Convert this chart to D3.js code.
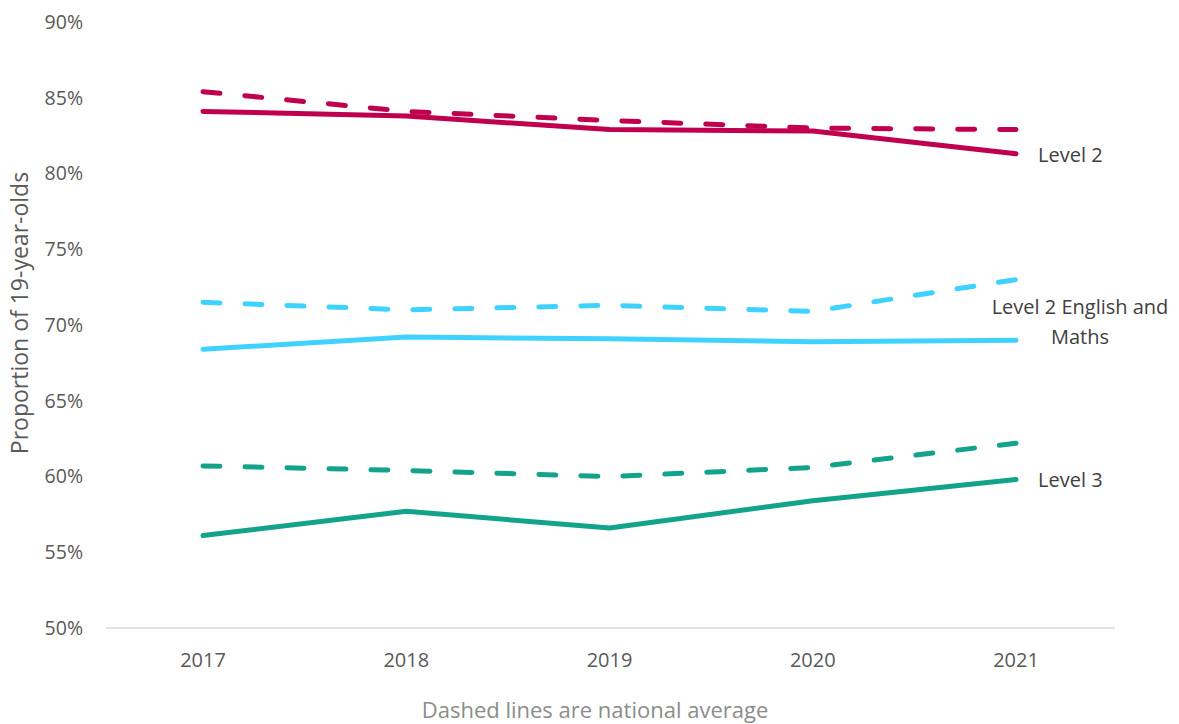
<!DOCTYPE html>
<html><head><meta charset="utf-8">
<script src="https://cdn.jsdelivr.net/npm/d3@7"></script>
<style>body{margin:0;background:#fff}svg{display:block}text{font-family:"Open Sans",sans-serif}</style>
</head><body><svg id="c" width="1179" height="724"></svg>
<script>
const years = ["2017","2018","2019","2020","2021"];
const level2 = [84.1, 83.8, 82.9, 82.8, 81.3];
const level2National = [85.4, 84.1, 83.5, 83.0, 82.9];
const level2EM = [68.4, 69.2, 69.1, 68.9, 69.0];
const level2EMNational = [71.5, 71.0, 71.3, 70.9, 73.0];
const level3 = [56.1, 57.7, 56.6, 58.4, 59.8];
const level3National = [60.7, 60.4, 60.0, 60.6, 62.2];
const yTicks = [50,55,60,65,70,75,80,85,90];

const series = [
  {vals: level2National, color:"#C0004F", dashed:true},
  {vals: level2, color:"#C0004F", dashed:false},
  {vals: level2EMNational, color:"#40D2FF", dashed:true},
  {vals: level2EM, color:"#40D2FF", dashed:false},
  {vals: level3National, color:"#13A38A", dashed:true},
  {vals: level3, color:"#13A38A", dashed:false}
];

const svg = d3.select("#c");
const x = d3.scalePoint().domain(years).range([203,1016]);
const y = d3.scaleLinear().domain([50,90]).range([628,22]);

svg.append("line").attr("x1",106).attr("x2",1115).attr("y1",y(50)).attr("y2",y(50))
  .attr("stroke","#d9d9d9").attr("stroke-width",1.5);

svg.append("g").selectAll("text").data(yTicks).join("text")
  .attr("x",83).attr("y",d=>y(d)).attr("dy","0.35em").attr("text-anchor","end")
  .attr("fill","#595959").attr("font-size",19.5).text(d=>d+"%");

svg.append("g").selectAll("text").data(years).join("text")
  .attr("x",d=>x(d)).attr("y",660).attr("dy","0.35em").attr("text-anchor","middle")
  .attr("fill","#595959").attr("font-size",20).text(d=>d);

svg.append("text").attr("transform","translate(20,313) rotate(-90)")
  .attr("text-anchor","middle").attr("dy","0.35em").attr("fill","#595959").attr("font-size",23)
  .text("Proportion of 19-year-olds");

svg.append("text").attr("x",595).attr("y",710).attr("dy","0.35em").attr("text-anchor","middle")
  .attr("fill","#8c8c8c").attr("font-size",22).text("Dashed lines are national average");

const line = d3.line().x((d,i)=>x(years[i])).y(d=>y(d));
svg.append("g").selectAll("path").data(series).join("path")
  .attr("d",d=>line(d.vals)).attr("fill","none").attr("stroke",d=>d.color)
  .attr("stroke-width",5).attr("stroke-linecap","round").attr("stroke-linejoin","round")
  .attr("stroke-dasharray",d=>d.dashed?"17 25":null);

const lab = svg.append("g").attr("fill","#404040").attr("font-size",20);
lab.append("text").attr("x",1038).attr("y",155).attr("dy","0.35em").text("Level 2");
lab.append("text").attr("x",1080).attr("y",307).attr("dy","0.35em").attr("text-anchor","middle").text("Level 2 English and");
lab.append("text").attr("x",1080).attr("y",337).attr("dy","0.35em").attr("text-anchor","middle").text("Maths");
lab.append("text").attr("x",1038).attr("y",480).attr("dy","0.35em").text("Level 3");
</script></body></html>
